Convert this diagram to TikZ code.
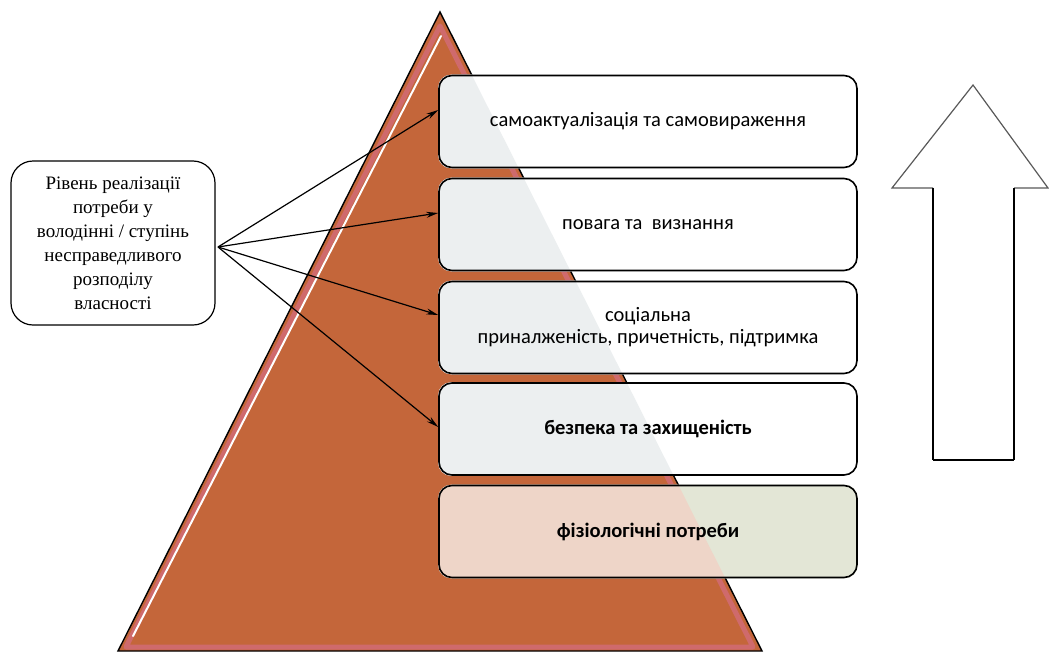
\documentclass[tikz,border=0pt]{standalone}
\usepackage{fontspec}
\setmainfont{Liberation Serif}
\newfontfamily\karlito{Carlito}
\usetikzlibrary{arrows.meta}
\definecolor{pomar}{HTML}{C4663A}
\definecolor{rozh}{HTML}{CF6A6C}
\definecolor{siryi}{HTML}{ECEFF0}
\definecolor{zelen}{HTML}{E3E6D6}
\definecolor{tilo}{HTML}{EED5C8}
\pgfdeclarelayer{tlo}
\pgfsetlayers{tlo,main}

\begin{document}
\begin{tikzpicture}[x=1pt,y=-1pt]
\tikzset{riven/.style={draw, line width=1.6pt, rounded corners=13pt, minimum width=418pt, minimum height=92pt, align=center, font=\karlito\fontsize{20.5}{22}\selectfont},
zhyrnyi/.style={font=\karlito\bfseries\fontsize{20.5}{22}\selectfont},
opys/.style={draw, line width=1.2pt, rounded corners=22pt, fill=white, minimum width=204pt, minimum height=164pt, align=center, font=\fontsize{19}{24}\selectfont},
strila/.style={-{Stealth[length=12pt,width=6pt]}, line width=1.2pt}}
\useasboundingbox (0,0) rectangle (1049,653);
\node[riven] (r1) at (648,121.5) {самоактуалізація та самовираження};
\node[riven] (r2) at (648,224.5) {повага та\ \ визнання};
\node[riven] (r3) at (648,327.5) {соціальна\\приналженість, причетність, підтримка};
\node[riven, zhyrnyi] (r4) at (648,429) {безпека та захищеність};
\node[riven, zhyrnyi] (r5) at (648,531.5) {фізіологічні потреби};
\begin{pgfonlayer}{tlo}
\fill[pomar] (440,12) -- (762,651) -- (118,651) -- cycle;
\draw[rozh, line width=5pt, line join=round] (440,26) -- (753,647) -- (126,647) -- cycle;
\draw[white, line width=2pt, line cap=round] (441,36) -- (133,636);
\draw[line width=1.4pt] (440,12) -- (762,651) -- (118,651) -- cycle;
\foreach \n in {r1,r2,r3,r4}
  \fill[white, rounded corners=13pt] (\n.south west) rectangle (\n.north east);
\fill[zelen, rounded corners=13pt] (r5.south west) rectangle (r5.north east);
\begin{scope}
\clip (440,12) -- (762,651) -- (118,651) -- cycle;
\foreach \n in {r1,r2,r3,r4}
  \fill[siryi, rounded corners=13pt] (\n.south west) rectangle (\n.north east);
\fill[tilo, rounded corners=13pt] (r5.south west) rectangle (r5.north east);
\end{scope}
\end{pgfonlayer}
\node[opys] (op) at (113,243) {Рівень реалізації\\потреби у\\володінні / ступінь\\несправедливого\\розподілу\\власності};
\coordinate (dz) at (218,247);
\draw[strila] (dz) -- ([yshift=11.5pt]r1.west);
\draw[strila] (dz) -- ([yshift=11.5pt]r2.west);
\draw[strila] (dz) -- ([yshift=12.5pt]r3.west);
\draw[strila] (dz) -- ([yshift=2pt]r4.west);
\fill[white] (973,85) -- (1048,188) -- (1014,188) -- (1014,460) -- (933,460) -- (933,188) -- (892,188) -- cycle;
\draw[gray!70!black, line width=1.2pt] (1014,188) -- (1048,188) -- (973,85) -- (892,188) -- (933,188);
\draw[line width=1.2pt] (933,188) -- (933,460);
\draw[line width=1.2pt] (1014,188) -- (1014,460);
\draw[line width=2.5pt] (933,460) -- (1014,460);
\end{tikzpicture}
\end{document}
